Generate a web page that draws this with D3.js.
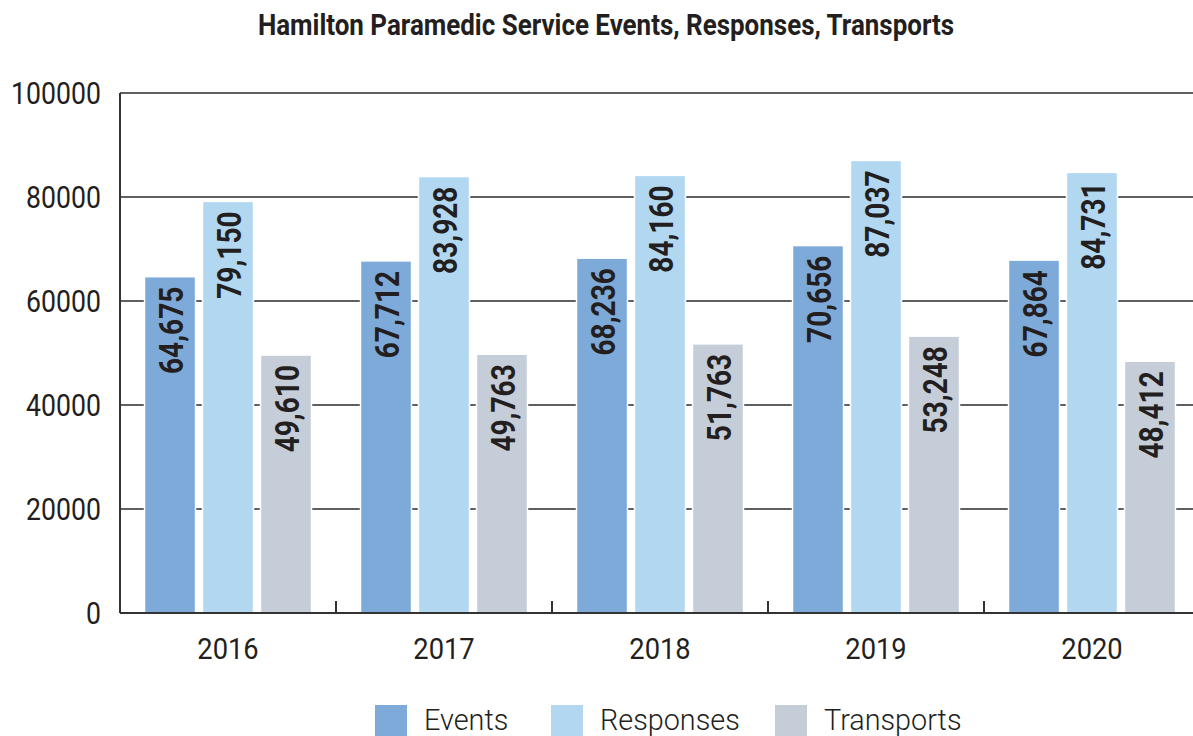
<!DOCTYPE html>
<html><head><meta charset="utf-8">
<script src="https://cdn.jsdelivr.net/npm/d3@7"></script>
<style>body{margin:0;background:#fff;} svg{display:block;font-family:Roboto,sans-serif;}</style>
</head><body>
<svg id="c" width="1193" height="736"></svg>
<script>
const years = ["2016","2017","2018","2019","2020"];
const seriesNames = ["Events","Responses","Transports"];
const events = [64675, 67712, 68236, 70656, 67864];
const responses = [79150, 83928, 84160, 87037, 84731];
const transports = [49610, 49763, 51763, 53248, 48412];
const yTicks = [0, 20000, 40000, 60000, 80000, 100000];
const colors = ["#7eaad9", "#b2d8f1", "#c5cdd8"];
const title = "Hamilton Paramedic Service Events, Responses, Transports";

const values = [events, responses, transports];
const svg = d3.select("#c");
const ink = "#231f20";
const SX = 0.86;
const m = {l:120, t:93, r:1200, b:613};

const x = d3.scaleBand().domain(years).range([m.l, m.r]).paddingInner(0).paddingOuter(0);
const xs = d3.scaleBand().domain(seriesNames).range([0, x.bandwidth()]).paddingInner(0.12).paddingOuter(0.422);
const y = d3.scaleLinear().domain([0, 100000]).range([m.b, m.t]);

function ctext(g, tx, ty, str, opts) {
  const gg = g.append("g").attr("transform", `translate(${tx},${ty})${opts.rot ? " rotate(-90)" : ""} scale(${opts.sx||SX},1)`);
  return gg.append("text").text(str)
    .attr("text-anchor", opts.anchor || "middle")
    .attr("dy", opts.dy || 0)
    .attr("font-size", opts.size)
    .attr("font-weight", opts.weight || 400)
    .attr("fill", ink);
}

// title
ctext(svg, 606, 35, title, {size: 29.5, weight: 700, sx: 0.88});

// gridlines
svg.append("g").selectAll("line").data(yTicks.filter(d => d > 0)).join("line")
  .attr("x1", m.l).attr("x2", m.r)
  .attr("y1", d => y(d)).attr("y2", d => y(d))
  .attr("stroke", "#2b2b2b").attr("stroke-width", 1.5);

// y labels
yTicks.forEach(t => ctext(svg, 101, y(t) + 11, String(t), {size: 31, anchor: "end"}));

// bars
const bars = svg.append("g");
years.forEach((yr, i) => {
  seriesNames.forEach((s, j) => {
    const v = values[j][i];
    const bx = x(yr) + xs(s);
    bars.append("rect")
      .attr("x", bx).attr("y", y(v))
      .attr("width", xs.bandwidth()).attr("height", y(0) - y(v))
      .attr("fill", colors[j]).attr("stroke", "#fff").attr("stroke-width", 1.5);
    ctext(bars, bx + xs.bandwidth() / 2 + 1, y(v) + 10, d3.format(",")(v),
      {size: 33, weight: 700, rot: true, anchor: "end", dy: "0.36em", sx: 0.85});
  });
});

// axes lines
svg.append("line").attr("x1", m.l).attr("x2", m.l).attr("y1", m.t).attr("y2", m.b)
  .attr("stroke", "#333").attr("stroke-width", 2);
svg.append("line").attr("x1", m.l).attr("x2", m.r).attr("y1", m.b).attr("y2", m.b)
  .attr("stroke", "#333").attr("stroke-width", 2);
svg.append("g").selectAll("line").data(years.slice(1)).join("line")
  .attr("x1", d => x(d)).attr("x2", d => x(d)).attr("y1", m.b).attr("y2", m.b - 12)
  .attr("stroke", "#333").attr("stroke-width", 2);

// x labels
years.forEach(yr => ctext(svg, x(yr) + x.bandwidth() / 2, 659, yr, {size: 30, sx: 0.91}));

// legend
const legendX = [375, 551, 775];
seriesNames.forEach((s, j) => {
  svg.append("rect").attr("x", legendX[j]).attr("y", 705).attr("width", 32).attr("height", 32).attr("fill", colors[j]);
  ctext(svg, legendX[j] + 49, 730, s, {size: 30, weight: 300, anchor: "start", sx: 0.96});
});
</script>
</body></html>
